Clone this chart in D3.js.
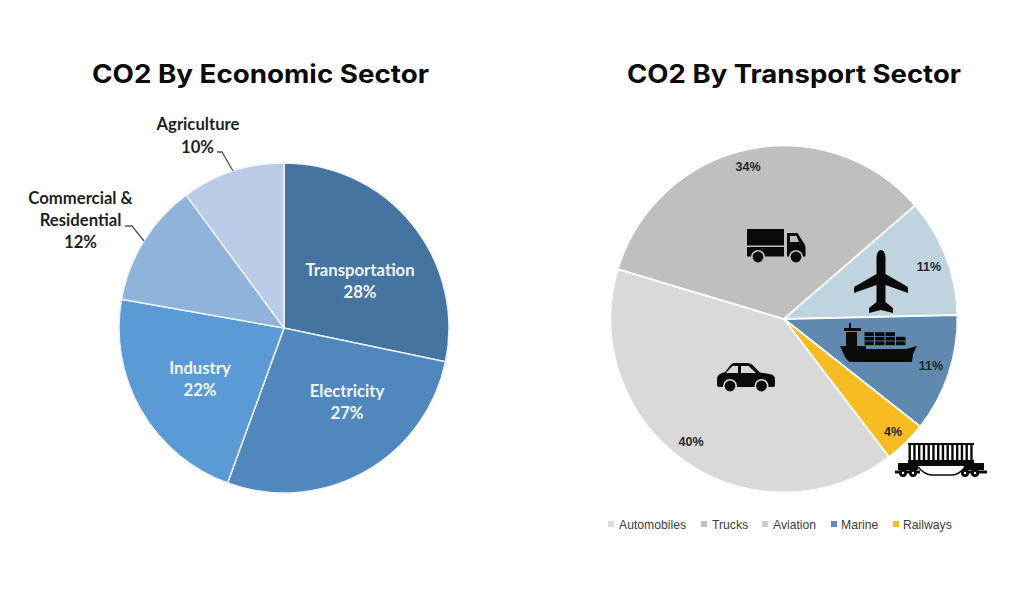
<!DOCTYPE html>
<html>
<head>
<meta charset="utf-8">
<script src="https://cdn.jsdelivr.net/npm/d3@7/dist/d3.min.js"></script>
<style>
  html, body { margin: 0; padding: 0; background: #fff; }
  svg { display: block; }
</style>
</head>
<body>
<svg id="chart" width="1012" height="600"></svg>
<script>
// CO2 shares by economic sector
const economicSectors = ["Transportation", "Electricity", "Industry", "Commercial & Residential", "Agriculture"];
const economicValues = [28, 27, 22, 12, 10];

// CO2 shares within transport
const transportSectors = ["Automobiles", "Trucks", "Aviation", "Marine", "Railways"];
const transportValues = [40, 34, 11, 11, 4];

// Colours, in slice order
const economicColors = ["#44749f", "#5088be", "#5b9bd5", "#8fb3db", "#b9cbe6"];
const transportColors = ["#d9d9d9", "#bfbfbf", "#bfd4de", "#5f89ae", "#f6bc21"];

// Label anchors for each slice
const economicLabelLayout = [
  { lines: [[360, 270, "Transportation"], [360, 292, "28%"]], fill: "#f4f6f8" },
  { lines: [[347, 391, "Electricity"], [347, 413, "27%"]], fill: "#f4f6f8" },
  { lines: [[200, 368, "Industry"], [200, 390, "22%"]], fill: "#f4f6f8" },
  { lines: [[80.5, 198, "Commercial &"], [80.5, 220, "Residential"], [80.5, 242, "12%"]], fill: "#1f1f1f" },
  { lines: [[198, 124, "Agriculture"], [197.5, 147, "10%"]], fill: "#1f1f1f" }
];
const transportLabelLayout = [[691, 441], [748, 166], [929, 266], [931, 365], [893, 431]];
const legendLayout = [[608, 619], [701, 712], [762, 773], [831, 841], [893, 903]];

const svg = d3.select("#chart");
const FONT_TITLE = "Inter, 'Open Sans', sans-serif";
const FONT_LABEL = "Lato, 'Open Sans', sans-serif";
const FONT_SMALL = "'Liberation Sans', Arial, sans-serif";

// Headings
const headings = [
  { text: "CO2 By Economic Sector", x: 260.5, width: 337 },
  { text: "CO2 By Transport Sector", x: 794, width: 334 }
];
svg.selectAll("text.heading").data(headings).join("text")
  .attr("class", "heading")
  .attr("x", d => d.x).attr("y", 83)
  .attr("text-anchor", "middle")
  .attr("textLength", d => d.width)
  .attr("lengthAdjust", "spacingAndGlyphs")
  .attr("font-family", FONT_TITLE)
  .attr("font-weight", 700)
  .attr("font-size", 25.5)
  .attr("fill", "#0b0b0b")
  .text(d => d.text);

// Left pie, clockwise from twelve o'clock
const leftPie = d3.pie().sort(null)(economicValues);
const leftArc = d3.arc().innerRadius(0).outerRadius(165);
const left = svg.append("g").attr("transform", "translate(284,328)");
left.selectAll("path").data(leftPie).join("path")
  .attr("d", leftArc)
  .attr("fill", (d, i) => economicColors[i])
  .attr("stroke", "#eef3f8")
  .attr("stroke-width", 1.5);

// Leader lines for the two outside labels
const leaders = ["M125 226H132L144 241", "M217 152H222L233 171"];
svg.selectAll("path.leader").data(leaders).join("path")
  .attr("class", "leader")
  .attr("d", d => d)
  .attr("fill", "none")
  .attr("stroke", "#555555")
  .attr("stroke-width", 1.3);

const leftLabels = svg.append("g")
  .attr("font-family", FONT_LABEL)
  .attr("font-weight", 700)
  .attr("font-size", 16.7)
  .attr("text-anchor", "middle");
economicLabelLayout.forEach(item => {
  item.lines.forEach(([x, y, t]) => {
    leftLabels.append("text")
      .attr("x", x).attr("y", y + 5.5)
      .attr("fill", item.fill)
      .text(t);
  });
});

// Right pie, rotated so Automobiles starts just past the railway wedge
const startDeg = 142.7;
const rightPie = d3.pie().sort(null)
  .startAngle(startDeg * Math.PI / 180)
  .endAngle((startDeg + 360) * Math.PI / 180)(transportValues);
const rightArc = d3.arc().innerRadius(0).outerRadius(173.5);
const right = svg.append("g").attr("transform", "translate(784,319)");
right.selectAll("path").data(rightPie).join("path")
  .attr("d", rightArc)
  .attr("fill", (d, i) => transportColors[i])
  .attr("stroke", "#ffffff")
  .attr("stroke-width", 1.8);

svg.append("g")
  .attr("font-family", FONT_SMALL)
  .attr("font-weight", 700)
  .attr("font-size", 12.5)
  .attr("fill", "#262626")
  .attr("text-anchor", "middle")
  .selectAll("text").data(transportValues).join("text")
  .attr("x", (d, i) => transportLabelLayout[i][0])
  .attr("y", (d, i) => transportLabelLayout[i][1] + 4.5)
  .text(d => d + "%");

// Legend row
const legend = svg.append("g").selectAll("g").data(transportSectors).join("g");
legend.append("rect")
  .attr("x", (d, i) => legendLayout[i][0])
  .attr("y", 521).attr("width", 6).attr("height", 6)
  .attr("fill", (d, i) => transportColors[i]);
legend.append("text")
  .attr("x", (d, i) => legendLayout[i][1])
  .attr("y", 528.5)
  .attr("font-family", FONT_SMALL)
  .attr("font-size", 12.2)
  .attr("fill", "#404040")
  .text(d => d);

// Vehicle pictograms
const INK = "#0a0a0a";

function wheel(g, x, y, r, ring) {
  g.append("circle").attr("cx", x).attr("cy", y).attr("r", r + 1.6).attr("fill", ring);
  g.append("circle").attr("cx", x).attr("cy", y).attr("r", r).attr("fill", INK);
}

// Truck
const truck = svg.append("g").attr("transform", "translate(747,229)");
truck.append("path").attr("fill", INK)
  .attr("d", "M0 0H37V16.5H0ZM0 18H37V27.5H0ZM40 4H50.5L58 16Q58.5 17 58.5 19V27.5H40Z");
truck.append("path").attr("fill", transportColors[1]).attr("d", "M43 7H49.5L52 13H43Z");
wheel(truck, 11, 28, 5.4, transportColors[1]);
wheel(truck, 49, 28, 5.4, transportColors[1]);

// Car
const car = svg.append("g").attr("transform", "translate(717,363)");
car.append("path").attr("fill", INK)
  .attr("d", "M0 15C1 11 5 10 8 9L14 1.5Q15.5 0 17 0H31Q33 0 35 1.5L43 9.5L53 11Q58 12 58 16V22Q58 24 56 24H2Q0 24 0 22Z");
car.append("path").attr("fill", transportColors[0]).attr("d", "M9 10L15.5 3H21V10ZM24 3H31.5L39 10H24Z");
wheel(car, 13, 23, 5.4, transportColors[0]);
wheel(car, 44.5, 23, 5.4, transportColors[0]);

// Plane
svg.append("path").attr("transform", "translate(881,250)").attr("fill", INK)
  .attr("d", "M0 0C3 0 4.5 4 4.5 8V24L27 37V43L4.5 35V52L12 58V63L0 60L-12 63V58L-4.5 52V35L-27 43V37L-4.5 24V8C-4.5 4-3 0 0 0Z");

// Container ship
const ship = svg.append("g").attr("transform", "translate(840,346)").attr("fill", INK);
ship.append("path")
  .attr("d", "M0 0H26V3H66L77 0L73 8L72 16H11Q8 16 5 11ZM6 0V-14H17V0ZM4 -18H21V-15H4ZM9 -23H11V-18H9Z");
const stackColumns = [[24.5, 3], [35, 3], [45.5, 3], [56, 2]];
stackColumns.forEach(([x, rows]) => {
  d3.range(rows).forEach(r => {
    ship.append("rect")
      .attr("x", x).attr("y", -(r + 1) * 4.6)
      .attr("width", 9.5).attr("height", 3.8);
  });
});

// Railway flat car with container
const train = svg.append("g").attr("transform", "translate(908,443)").attr("fill", INK);
train.append("rect").attr("x", 0).attr("y", 0).attr("width", 66).attr("height", 2);
train.append("rect").attr("x", 0).attr("y", 17).attr("width", 66).attr("height", 3);
d3.range(14).forEach(i => {
  train.append("rect").attr("x", 0.5 + i * 4.75).attr("y", 1).attr("width", 2.4).attr("height", 17);
});
train.append("path")
  .attr("d", "M-10 20H76V27H56V23H10V27H-10Z");
train.append("path")
  .attr("fill", "none").attr("stroke", INK).attr("stroke-width", 1.4)
  .attr("d", "M10 24Q17 32 24 32H44Q51 32 57 24");
train.append("path").attr("d", "M-13 27.5H12V30.5H-13ZM54 27.5H79V30.5H54Z");
[-5, 5, 57, 67].forEach(x => {
  train.append("circle").attr("cx", x).attr("cy", 30).attr("r", 4).attr("fill", INK);
  train.append("circle").attr("cx", x).attr("cy", 30).attr("r", 1.2).attr("fill", "#fff");
});
</script>
</body>
</html>
